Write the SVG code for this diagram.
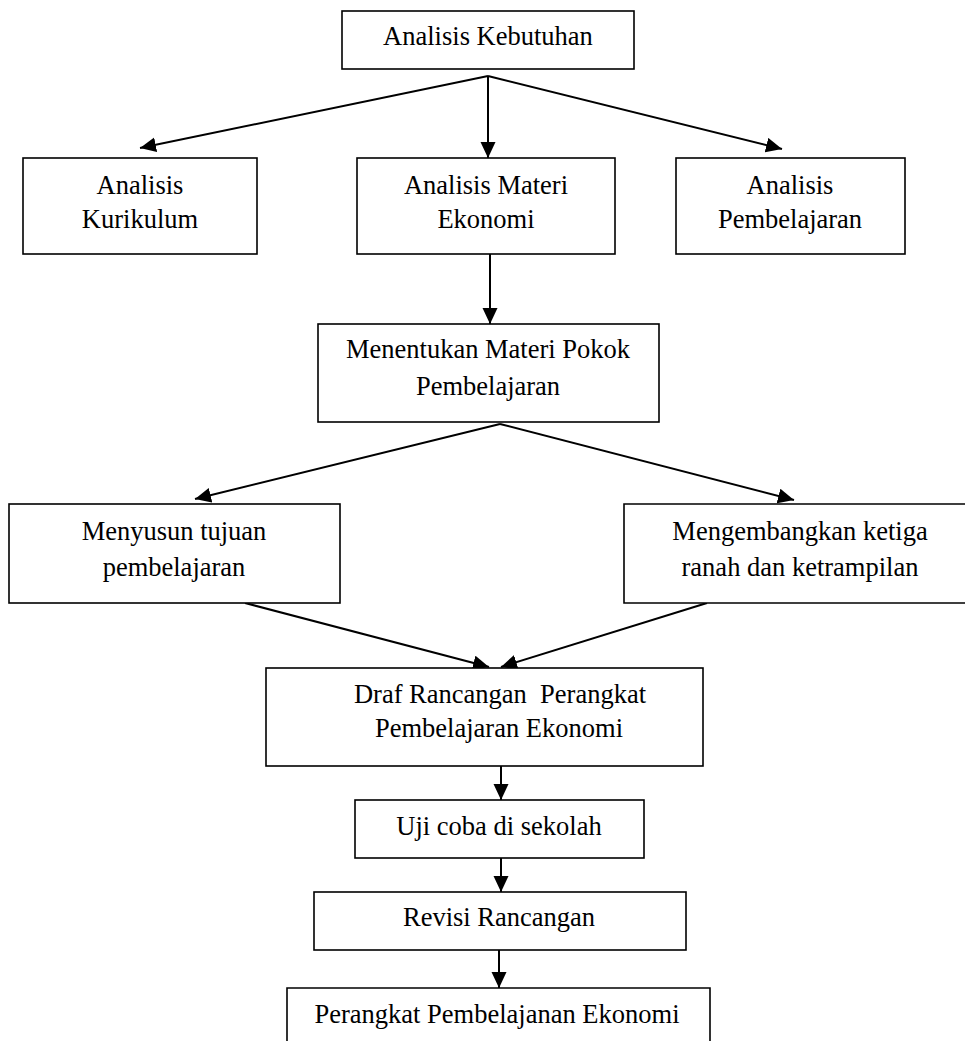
<svg xmlns="http://www.w3.org/2000/svg" width="965" height="1041" viewBox="0 0 965 1041">
<style>
.box{fill:#fff;stroke:#000;stroke-width:1.6}
.t{font-family:"Liberation Serif","Times New Roman",serif;font-size:26.5px;fill:#000;text-anchor:middle}
.c{fill:none;stroke:#000;stroke-width:2;marker-end:url(#ah)}
</style>
<defs>
<marker id="ah" markerUnits="userSpaceOnUse" markerWidth="18" markerHeight="16" refX="16" refY="7.5" orient="auto">
<path d="M0,0 L16,7.5 L0,15 z" fill="#000"/>
</marker>
</defs>
<rect width="965" height="1041" fill="#fff"/>
<g id="connectors">
<path class="c" d="M488,76 L140,148"/>
<path class="c" d="M488,76 L488,158"/>
<path class="c" d="M488,76 L782,149"/>
<path class="c" d="M490,254 L490,324"/>
<path class="c" d="M500,424 L195,499"/>
<path class="c" d="M500,424 L794,500"/>
<path class="c" d="M245,603 L489,667"/>
<path class="c" d="M707,603 L501,667"/>
<path class="c" d="M501,766 L501,800"/>
<path class="c" d="M501,858 L501,892"/>
<path class="c" d="M499,950 L499,988"/>
</g>
<g id="n-kebutuhan">
<rect class="box" x="342" y="11" width="292" height="58"/>
<text class="t" x="488" y="45">Analisis Kebutuhan</text>
</g>
<g id="n-kurikulum">
<rect class="box" x="23" y="158" width="234" height="96"/>
<text class="t" x="140" y="194">Analisis</text>
<text class="t" x="140" y="228">Kurikulum</text>
</g>
<g id="n-materi">
<rect class="box" x="357" y="158" width="258" height="96"/>
<text class="t" x="486" y="194">Analisis Materi</text>
<text class="t" x="486" y="228">Ekonomi</text>
</g>
<g id="n-pembelajaran">
<rect class="box" x="676" y="158" width="229" height="96"/>
<text class="t" x="790" y="194">Analisis</text>
<text class="t" x="790" y="228">Pembelajaran</text>
</g>
<g id="n-menentukan">
<rect class="box" x="318" y="324" width="341" height="98"/>
<text class="t" x="488" y="358">Menentukan Materi Pokok</text>
<text class="t" x="488" y="395">Pembelajaran</text>
</g>
<g id="n-menyusun">
<rect class="box" x="9" y="504" width="331" height="99"/>
<text class="t" x="174" y="540">Menyusun tujuan</text>
<text class="t" x="174" y="576">pembelajaran</text>
</g>
<g id="n-mengembangkan">
<path class="box" d="M966,504 L624,504 L624,603 L966,603"/>
<text class="t" x="800" y="540">Mengembangkan ketiga</text>
<text class="t" x="800" y="576">ranah dan ketrampilan</text>
</g>
<g id="n-draf">
<rect class="box" x="266" y="668" width="437" height="98"/>
<text class="t" x="500" y="703" xml:space="preserve">Draf Rancangan  Perangkat</text>
<text class="t" x="499" y="737">Pembelajaran Ekonomi</text>
</g>
<g id="n-uji">
<rect class="box" x="355" y="800" width="289" height="58"/>
<text class="t" x="499" y="835">Uji coba di sekolah</text>
</g>
<g id="n-revisi">
<rect class="box" x="314" y="892" width="372" height="58"/>
<text class="t" x="499" y="926">Revisi Rancangan</text>
</g>
<g id="n-perangkat">
<path class="box" d="M287,1042 L287,988 L710,988 L710,1042"/>
<text class="t" x="497" y="1023">Perangkat Pembelajanan Ekonomi</text>
</g>
</svg>
